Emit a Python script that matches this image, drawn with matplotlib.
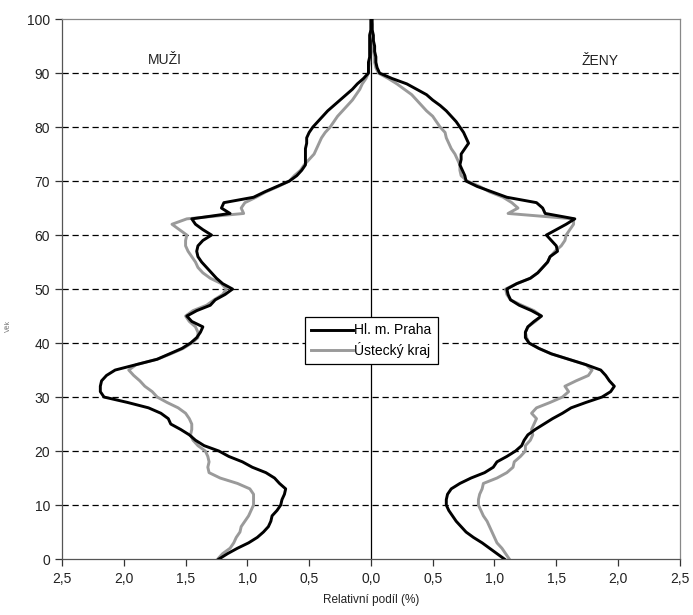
import matplotlib
matplotlib.use("Agg")
import matplotlib.pyplot as plt
from matplotlib.ticker import FuncFormatter

plt.rcParams['font.family'] = ['Liberation Sans', 'DejaVu Sans']

ages = list(range(0, 101))

# relative share (%) by single year of age
muzi_praha = [
    1.23, 1.16, 1.08, 0.99, 0.92, 0.87, 0.83, 0.81, 0.80, 0.76,
    0.73, 0.72, 0.70, 0.69, 0.74, 0.78, 0.85, 0.96, 1.04, 1.15,
    1.23, 1.35, 1.42, 1.47, 1.54, 1.62, 1.64, 1.70, 1.80, 1.97,
    2.16, 2.19, 2.19, 2.18, 2.14, 2.07, 1.90, 1.73, 1.63, 1.53,
    1.46, 1.41, 1.38, 1.36, 1.45, 1.49, 1.41, 1.30, 1.26, 1.18,
    1.12, 1.20, 1.25, 1.29, 1.33, 1.37, 1.40, 1.41, 1.40, 1.36,
    1.29, 1.36, 1.42, 1.45, 1.14, 1.21, 1.19, 0.95, 0.86, 0.76,
    0.66, 0.60, 0.56, 0.53, 0.53, 0.53, 0.53, 0.52, 0.52, 0.50,
    0.47, 0.43, 0.39, 0.35, 0.30, 0.25, 0.20, 0.15, 0.11, 0.06,
    0.02, 0.02, 0.02, 0.01, 0.01, 0.01, 0.01, 0.01, 0.00, 0.00,
    0.00,
]
muzi_usti = [
    1.24, 1.20, 1.14, 1.11, 1.09, 1.06, 1.05, 1.02, 0.99, 0.97,
    0.95, 0.95, 0.95, 0.98, 1.08, 1.22, 1.31, 1.32, 1.31, 1.32,
    1.34, 1.40, 1.44, 1.46, 1.45, 1.45, 1.47, 1.50, 1.56, 1.65,
    1.73, 1.77, 1.83, 1.87, 1.92, 1.96, 1.90, 1.73, 1.62, 1.52,
    1.45, 1.40, 1.40, 1.42, 1.47, 1.50, 1.44, 1.33, 1.27, 1.20,
    1.17, 1.21, 1.30, 1.36, 1.40, 1.42, 1.45, 1.48, 1.50, 1.50,
    1.49, 1.55, 1.61, 1.49, 1.03, 1.05, 1.02, 0.93, 0.85, 0.75,
    0.66, 0.62, 0.57, 0.54, 0.50, 0.46, 0.44, 0.42, 0.40, 0.37,
    0.33, 0.30, 0.27, 0.23, 0.19, 0.15, 0.12, 0.09, 0.07, 0.04,
    0.02, 0.02, 0.01, 0.01, 0.01, 0.01, 0.01, 0.01, 0.00, 0.00,
    0.00,
]
zeny_praha = [
    1.08, 1.02, 0.96, 0.90, 0.83, 0.77, 0.73, 0.69, 0.66, 0.63,
    0.61, 0.61, 0.62, 0.65, 0.72, 0.81, 0.92, 0.99, 1.02, 1.10,
    1.17, 1.22, 1.24, 1.27, 1.33, 1.40, 1.47, 1.55, 1.62, 1.74,
    1.87, 1.94, 1.97, 1.93, 1.90, 1.86, 1.74, 1.60, 1.46, 1.36,
    1.28, 1.25, 1.25, 1.27, 1.32, 1.38, 1.30, 1.20, 1.13, 1.11,
    1.10, 1.18, 1.29, 1.35, 1.39, 1.43, 1.45, 1.51, 1.50, 1.46,
    1.42, 1.50, 1.58, 1.65, 1.41, 1.39, 1.34, 1.10, 0.98, 0.86,
    0.77, 0.76, 0.74, 0.72, 0.73, 0.73, 0.76, 0.79, 0.77, 0.75,
    0.72, 0.69, 0.65, 0.61, 0.56, 0.50, 0.45, 0.37, 0.29, 0.17,
    0.07, 0.05, 0.04, 0.04, 0.03, 0.03, 0.02, 0.02, 0.01, 0.01,
    0.01,
]
zeny_usti = [
    1.12, 1.09, 1.06, 1.02, 1.00, 0.98, 0.96, 0.94, 0.91, 0.89,
    0.87, 0.87, 0.88, 0.90, 0.91, 1.02, 1.10, 1.15, 1.16, 1.21,
    1.25, 1.25, 1.29, 1.31, 1.30, 1.32, 1.34, 1.30, 1.34, 1.45,
    1.55, 1.60, 1.57, 1.66, 1.76, 1.79, 1.74, 1.60, 1.46, 1.36,
    1.28, 1.26, 1.25, 1.27, 1.33, 1.38, 1.32, 1.22, 1.13, 1.10,
    1.09, 1.18, 1.29, 1.35, 1.39, 1.43, 1.45, 1.49, 1.54, 1.57,
    1.58, 1.61, 1.64, 1.64, 1.11, 1.19, 1.14, 1.07, 0.96, 0.88,
    0.78, 0.73, 0.72, 0.72, 0.70, 0.68, 0.65, 0.63, 0.61, 0.60,
    0.56, 0.53, 0.50, 0.45, 0.41, 0.37, 0.33, 0.27, 0.21, 0.14,
    0.06, 0.04, 0.03, 0.03, 0.02, 0.02, 0.02, 0.01, 0.01, 0.01,
    0.00,
]

x_ticks = [-2.5, -2.0, -1.5, -1.0, -0.5, 0.0, 0.5, 1.0, 1.5, 2.0, 2.5]
y_ticks = list(range(0, 101, 10))


def abs_comma(x, pos):
    return f"{abs(x):.1f}".replace('.', ',')


fig = plt.figure(figsize=(6.93, 6.15), dpi=100)
ax = fig.add_axes([0.0895, 0.091, 0.8915, 0.878])

# dashed horizontal grid
for y in y_ticks[1:-1]:
    ax.axhline(y, color='black', lw=0.9, ls=(0, (5, 3)), zorder=1)
ax.axvline(0, color='black', lw=0.9, zorder=1)

# men on the left (negative side)
ax.plot([-v for v in muzi_praha], ages, color='black', lw=2.1, zorder=3, label='Hl. m. Praha')
ax.plot([-v for v in muzi_usti], ages, color='#9a9a9a', lw=2.1, zorder=2, label='Ústecký kraj')
ax.plot(zeny_praha, ages, color='black', lw=2.1, zorder=3)
ax.plot(zeny_usti, ages, color='#9a9a9a', lw=2.1, zorder=2)

ax.set_xlim(-2.5, 2.5)
ax.set_ylim(0, 100)
ax.set_xticks(x_ticks)
ax.set_yticks(y_ticks)
ax.xaxis.set_major_formatter(FuncFormatter(abs_comma))
ax.tick_params(axis='both', direction='out', length=5, width=0.9, labelsize=10,
               colors='#333333', labelcolor='#222222')
ax.tick_params(axis='x', pad=4)

for side in ['top', 'right']:
    ax.spines[side].set_color('#888888')
for side in ['left', 'bottom']:
    ax.spines[side].set_color('#555555')
for s in ax.spines.values():
    s.set_linewidth(0.9)

ax.text(-1.67, 92.4, 'MUŽI', ha='center', va='center', fontsize=10, color='#222222')
ax.text(1.85, 92.2, 'ŽENY', ha='center', va='center', fontsize=10, color='#222222')

leg = ax.legend(loc='upper left', bbox_to_anchor=(0.393, 0.448), fontsize=10,
                frameon=True, fancybox=False, framealpha=1, edgecolor='black',
                handlelength=3.0, handletextpad=0.1, borderpad=0.45,
                labelspacing=0.35, borderaxespad=0)
leg.get_frame().set_linewidth(0.9)
leg.set_zorder(5)

ax.set_xlabel('Relativní podíl (%)', fontsize=8.5, color='#222222', labelpad=6)
fig.text(0.012, 0.47, 'Věk', rotation=90, fontsize=5, color='#777777', ha='center', va='center')

fig.savefig('out.png', dpi=100)
